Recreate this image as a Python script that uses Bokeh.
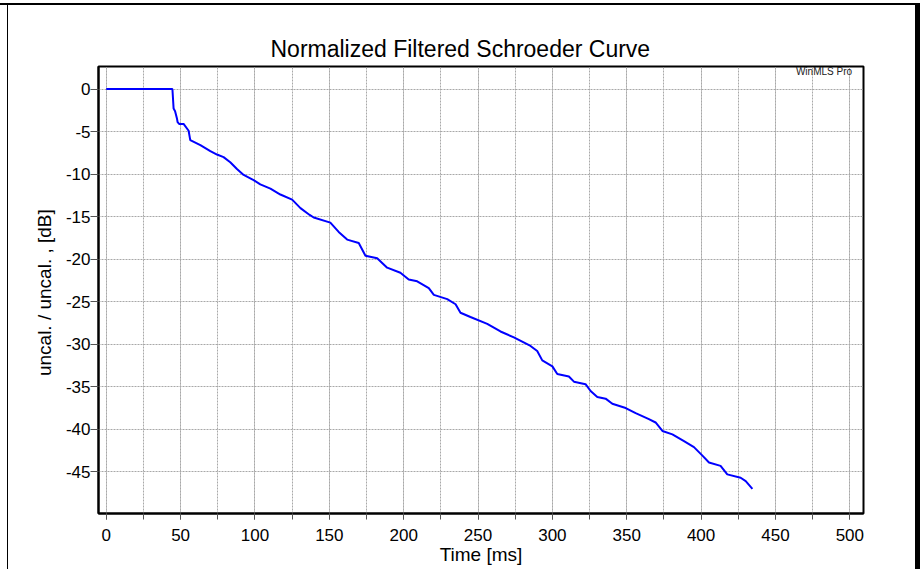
from bokeh.plotting import figure
from bokeh.models import Range1d, SingleIntervalTicker, Label, PrintfTickFormatter
from bokeh.embed import file_html
from bokeh.resources import INLINE

# ---- data ----
time_ms = [0, 44.5, 45.3, 46.3, 47.6, 48.0, 49.0, 52.0, 55.4, 56.5, 63.3, 70.0, 74.5, 78.9,
           83.4, 87.9, 92.4, 99.1, 103.6, 110.4, 117.1, 125.0, 130.6, 136.8, 139.5, 150.7,
           156.3, 162.0, 169.8, 174.3, 182.2, 188.9, 197.8, 203.4, 209.1, 216.9, 220.3,
           229.3, 234.9, 238.2, 244.9, 256.2, 265.1, 274.1, 285.3, 289.8, 293.2, 300.0,
           303.3, 311.1, 314.5, 322.3, 325.7, 330.2, 335.8, 340.3, 349.3, 356.0, 364.9,
           369.4, 374.0, 380.7, 388.5, 395.2, 400.9, 405.3, 413.1, 417.6, 426.6, 430.0, 434.5]
level_db = [0, 0, -2.3, -2.6, -3.5, -3.9, -4.1, -4.1, -4.9, -6.0, -6.6, -7.3, -7.7, -8.0,
            -8.6, -9.4, -10.1, -10.7, -11.2, -11.7, -12.4, -13.0, -14.0, -14.8, -15.1, -15.7,
            -16.8, -17.7, -18.1, -19.6, -19.9, -21.0, -21.6, -22.4, -22.6, -23.4, -24.2,
            -24.7, -25.3, -26.3, -26.8, -27.6, -28.5, -29.2, -30.2, -30.8, -31.9, -32.6,
            -33.5, -33.8, -34.4, -34.7, -35.5, -36.2, -36.4, -37.0, -37.5, -38.1, -38.8,
            -39.2, -40.2, -40.6, -41.4, -42.1, -43.1, -43.9, -44.3, -45.3, -45.7, -46.1, -47.0]

title_text = "Normalized Filtered Schroeder Curve"
x_label = "Time [ms]"
y_label = "uncal.  / uncal. , [dB]"
watermark = "WinMLS Pro"
x_limits = [-5.2, 509.2]
y_limits = [-49.9, 2.65]
x_major_step = 50
y_major_step = 5

FONT = "Liberation Sans"

window_frame = ("linear-gradient(#000,#000) 0px 3px / 100% 2px no-repeat, "
                "linear-gradient(#000,#000) 7px 3px / 1px 100% no-repeat, "
                "linear-gradient(#000,#000) 915px 3px / 5px 100% no-repeat")

p = figure(width=920, height=569, output_backend="svg", toolbar_location=None,
           x_range=Range1d(*x_limits), y_range=Range1d(*y_limits),
           min_border_left=98, min_border_right=57, min_border_top=66, min_border_bottom=56,
           styles={"background": window_frame})

p.background_fill_color = "white"
p.border_fill_alpha = 0
p.outline_line_color = "black"
p.outline_line_width = 2

# title
p.title.text = title_text
p.title.align = "left"
p.title.offset = 172
p.title.text_font = FONT
p.title.text_font_size = "23px"
p.title.text_font_style = "normal"
p.title.text_color = "black"
p.title.standoff = 9

# axes
p.xaxis.ticker = SingleIntervalTicker(interval=x_major_step, num_minor_ticks=2)
p.yaxis.ticker = SingleIntervalTicker(interval=y_major_step, num_minor_ticks=0)
p.xaxis.formatter = PrintfTickFormatter(format="%d")
p.yaxis.formatter = PrintfTickFormatter(format="%d")
for ax in (p.xaxis, p.yaxis):
    ax.axis_line_color = "black"
    ax.axis_line_width = 2
    ax.major_tick_line_color = "#555555"
    ax.minor_tick_line_color = "#555555"
    ax.major_tick_in = 0
    ax.minor_tick_in = 0
    ax.major_label_text_font = FONT
    ax.major_label_text_font_size = "17px"
    ax.major_label_text_color = "black"
    ax.axis_label_text_font = FONT
    ax.axis_label_text_font_size = "19px"
    ax.axis_label_text_font_style = "normal"
    ax.axis_label_text_color = "black"
p.xaxis.major_tick_out = 6
p.xaxis.minor_tick_out = 6
p.yaxis.major_tick_out = 8
p.xaxis.major_label_standoff = 9
p.yaxis.major_label_standoff = 0
p.xaxis.axis_label = x_label
p.yaxis.axis_label = y_label
p.xaxis.axis_label_standoff = 0
p.yaxis.axis_label_standoff = 8

# grid
for g in (p.xgrid, p.ygrid):
    g.grid_line_color = "#a8a8a8"
    g.grid_line_dash = "2 1"
    g.grid_line_width = 1
p.xgrid.minor_grid_line_color = "#a8a8a8"
p.xgrid.minor_grid_line_dash = "2 1"
p.xgrid.minor_grid_line_width = 1

# curve
p.line(time_ms, level_db, line_color="#0000ff", line_width=2)

# watermark
p.add_layout(Label(x=501.5, y=2.1, text=watermark, text_align="right", text_baseline="middle",
                   text_font=FONT, text_font_size="10px", text_color="#222222"))

open("out.html", "w").write(file_html(p, INLINE))
